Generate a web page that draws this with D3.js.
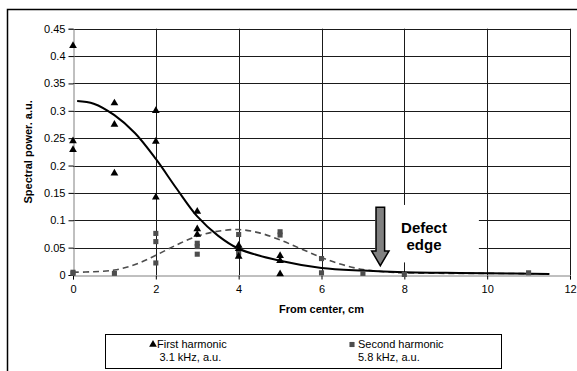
<!DOCTYPE html>
<html lang="en">
<head>
<meta charset="UTF-8">
<title>Spectral power vs distance from center</title>
<script src="https://cdnjs.cloudflare.com/ajax/libs/d3/7.8.5/d3.min.js"></script>
<style>
    body { margin: 0; background: #fff; }
    svg { display: block; font-family: "Liberation Sans", Arial, sans-serif; }
    .tick text { font-size: 11px; fill: #000; }
</style>
</head>
<body>
<div id="chart"></div>
<script>
    // measured points, first harmonic (triangles) and second harmonic (squares)
    const firstX = [0, 0, 0, 1, 1, 1, 2, 2, 2, 3, 3, 3, 4, 4, 4, 5, 5, 5];
    const firstY = [0.419, 0.245, 0.229, 0.314, 0.275, 0.186, 0.300, 0.244, 0.142, 0.116, 0.084, 0.074, 0.054, 0.048, 0.034, 0.035, 0.026, 0.002];

    const secondX = [0, 0, 1, 2, 2, 2, 3, 3, 3, 4, 4, 4, 5, 5, 6, 6, 7, 8, 11];
    const secondY = [0.005, 0.003, 0.003, 0.076, 0.061, 0.022, 0.058, 0.052, 0.038, 0.074, 0.047, 0.040, 0.079, 0.073, 0.030, 0.004, 0.003, 0.001, 0.004];

    // fitted curves
    const fitFirstX = [0.1, 0.5, 1, 1.5, 2, 2.5, 3, 3.5, 4, 5, 6, 7, 8, 9, 10, 11.5];
    const fitFirstY = [0.318, 0.313, 0.292, 0.259, 0.212, 0.158, 0.107, 0.072, 0.048, 0.026, 0.013, 0.008, 0.005, 0.004, 0.003, 0.002];

    const fitSecondX = [0, 0.5, 1, 1.5, 2, 2.5, 3, 3.5, 4, 4.5, 5, 5.5, 6, 6.5, 7, 7.5, 8, 9, 10, 11.5];
    const fitSecondY = [0.005, 0.006, 0.009, 0.019, 0.036, 0.055, 0.071, 0.080, 0.083, 0.077, 0.064, 0.048, 0.032, 0.019, 0.010, 0.006, 0.004, 0.003, 0.003, 0.002];

    const xTicks = [0, 2, 4, 6, 8, 10, 12];
    const yTicks = [0, 0.05, 0.1, 0.15, 0.2, 0.25, 0.3, 0.35, 0.4, 0.45];

    const width = 577, height = 371;
    const plot = { left: 73, right: 570, top: 28.7, bottom: 275 };

    const svg = d3.select("#chart").append("svg")
        .attr("width", width)
        .attr("height", height);

    // outer chart frame (runs off the right and bottom edge)
    svg.append("rect")
        .attr("x", 7.5).attr("y", 9.5)
        .attr("width", 600).attr("height", 400)
        .attr("fill", "none")
        .attr("stroke", "#000")
        .attr("stroke-width", 1.5);

    const x = d3.scaleLinear().domain([0, 12]).range([plot.left, plot.right]);
    const y = d3.scaleLinear().domain([0, 0.45]).range([plot.bottom, plot.top]);

    // gridlines
    const grid = svg.append("g");
    grid.selectAll(".hgrid")
        .data(yTicks.filter(d => d > 0))
        .enter().append("line")
        .attr("x1", plot.left).attr("x2", plot.right)
        .attr("y1", d => Math.round(y(d)) + 0.5).attr("y2", d => Math.round(y(d)) + 0.5)
        .attr("stroke", "#1a1a1a");
    grid.selectAll(".vgrid")
        .data(xTicks.filter(d => d > 0))
        .enter().append("line")
        .attr("y1", plot.top).attr("y2", plot.bottom)
        .attr("x1", d => Math.round(x(d)) + 0.5).attr("x2", d => Math.round(x(d)) + 0.5)
        .attr("stroke", "#1a1a1a");

    // white box behind the annotation
    svg.append("rect")
        .attr("x", x(7.3)).attr("y", y(0.128))
        .attr("width", x(9.8) - x(7.3))
        .attr("height", y(0.023) - y(0.128))
        .attr("fill", "#fff");

    // axes
    const xAxis = svg.append("g")
        .attr("transform", `translate(0,${Math.round(plot.bottom) + 0.5})`)
        .call(d3.axisBottom(x).tickValues(xTicks).tickSize(4).tickPadding(6).tickFormat(d3.format("d")));
    const yAxis = svg.append("g")
        .attr("transform", `translate(${Math.round(plot.left) + 0.5},0)`)
        .call(d3.axisLeft(y).tickValues(yTicks).tickSize(5).tickPadding(3).tickFormat(d => d === 0 ? "0" : String(d)));
    [xAxis, yAxis].forEach(a => {
        a.select(".domain").attr("stroke", "#808080");
        a.selectAll(".tick line").attr("stroke", "#000");
        a.selectAll(".tick text").attr("font-family", "Liberation Sans, Arial, sans-serif").attr("font-size", 11);
    });

    // fitted curves
    const line = d3.line()
        .x(d => x(d[0]))
        .y(d => y(d[1]))
        .curve(d3.curveCatmullRom.alpha(0.5));

    svg.append("path")
        .datum(d3.zip(fitSecondX, fitSecondY))
        .attr("d", line)
        .attr("fill", "none")
        .attr("stroke", "#4d4d4d")
        .attr("stroke-width", 1.6)
        .attr("stroke-dasharray", "6,4");

    svg.append("path")
        .datum(d3.zip(fitFirstX, fitFirstY))
        .attr("d", line)
        .attr("fill", "none")
        .attr("stroke", "#000")
        .attr("stroke-width", 2);

    // points
    const tri = d3.symbol().type(d3.symbolTriangle).size(26);
    const sq = d3.symbol().type(d3.symbolSquare).size(26);

    svg.append("g").selectAll("path")
        .data(d3.zip(secondX, secondY))
        .enter().append("path")
        .attr("d", sq)
        .attr("transform", d => `translate(${x(d[0])},${y(d[1])})`)
        .attr("fill", "#4d4d4d");

    svg.append("g").selectAll("path")
        .data(d3.zip(firstX, firstY))
        .enter().append("path")
        .attr("d", tri)
        .attr("transform", d => `translate(${x(d[0])},${y(d[1])})`)
        .attr("fill", "#000");

    // defect edge arrow
    const ax = 7.42, half = 4.3, headHalf = 8.7;
    const aTop = y(0.124), aBase = y(0.044), aTip = y(0.017);
    const cx = x(ax);
    svg.append("path")
        .attr("d", `M${cx - half},${aTop} L${cx + half},${aTop} L${cx + half},${aBase} L${cx + headHalf},${aBase} L${cx},${aTip} L${cx - headHalf},${aBase} L${cx - half},${aBase} Z`)
        .attr("fill", "#808080")
        .attr("stroke", "#000")
        .attr("stroke-width", 1.5)
        .attr("stroke-linejoin", "miter");

    svg.append("text")
        .attr("x", 424).attr("y", 233)
        .attr("text-anchor", "middle")
        .attr("font-size", 15).attr("font-weight", "bold")
        .text("Defect");
    svg.append("text")
        .attr("x", 424).attr("y", 250)
        .attr("text-anchor", "middle")
        .attr("font-size", 15).attr("font-weight", "bold")
        .text("edge");

    // axis titles
    svg.append("text")
        .attr("x", (plot.left + plot.right) / 2).attr("y", 313)
        .attr("text-anchor", "middle")
        .attr("font-size", 11).attr("font-weight", "bold")
        .text("From center, cm");

    svg.append("text")
        .attr("transform", `translate(32,${(plot.top + plot.bottom) / 2}) rotate(-90)`)
        .attr("text-anchor", "middle")
        .attr("font-size", 11).attr("font-weight", "bold")
        .text("Spectral power. a.u.");

    // legend
    const legend = svg.append("g");
    legend.append("rect")
        .attr("x", 105.5).attr("y", 334.5)
        .attr("width", 396).attr("height", 34)
        .attr("fill", "#fff")
        .attr("stroke", "#000");
    legend.append("path").attr("d", tri).attr("transform", "translate(153,344.5)").attr("fill", "#000");
    legend.append("text").attr("x", 157).attr("y", 348).attr("font-size", 11).text("First harmonic");
    legend.append("text").attr("x", 159.5).attr("y", 361).attr("font-size", 11).text("3.1 kHz, a.u.");
    legend.append("path").attr("d", sq).attr("transform", "translate(352,344.5)").attr("fill", "#4d4d4d");
    legend.append("text").attr("x", 358).attr("y", 348).attr("font-size", 11).text("Second harmonic");
    legend.append("text").attr("x", 358).attr("y", 361).attr("font-size", 11).text("5.8 kHz, a.u.");
</script>
</body>
</html>
